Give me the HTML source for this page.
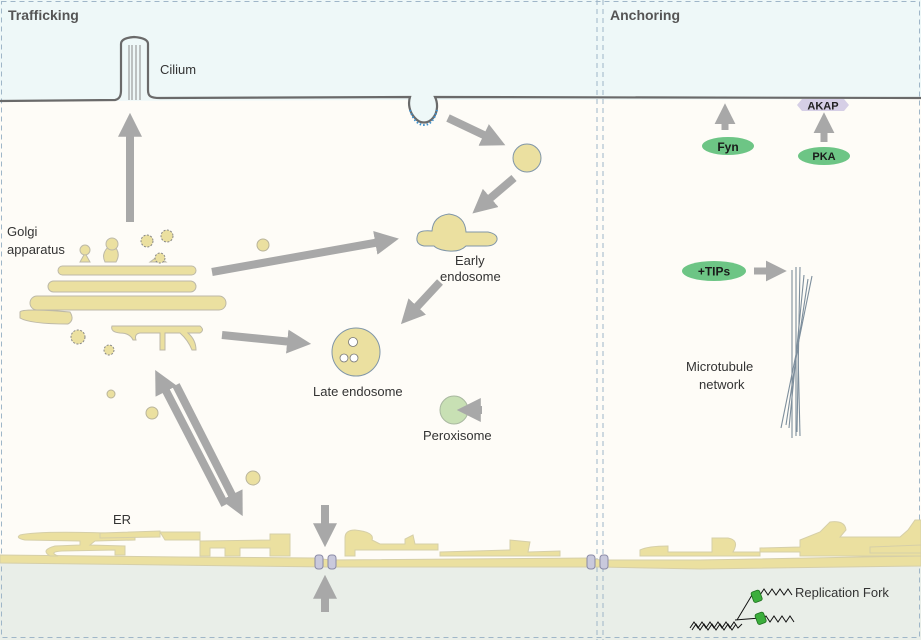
<!DOCTYPE html>
<html><head><meta charset="utf-8"><style>
body{margin:0;background:#fff}
svg{display:block;font-family:"Liberation Sans",sans-serif}
</style></head><body>
<svg width="921" height="640" viewBox="0 0 921 640">
<defs>
<marker id="ah" viewBox="0 0 10 10" refX="2" refY="5" markerWidth="3" markerHeight="3" orient="auto"><path d="M0,0L10,5L0,10z" fill="#a8a8a8"/></marker>
</defs>
<rect width="921" height="640" fill="#fefcf7"/>
<path d="M0,0H921V99L0,101z" fill="#eef8f8"/>
<path d="M0,563 C200,561 400,566 600,563 S800,568 921,566 V640H0z" fill="#e9eee8"/>
<g fill="none" stroke="#9fb6c8" stroke-dasharray="5,4" stroke-width="1">
<rect x="1.5" y="1.5" width="918" height="636"/>
<line x1="597" y1="0" x2="597" y2="640"/><line x1="603" y1="0" x2="603" y2="640"/>
</g>
<text x="8" y="20" font-size="14" font-weight="bold" fill="#555">Trafficking</text>
<text x="610" y="20" font-size="14" font-weight="bold" fill="#555">Anchoring</text>
<path d="M0,101 L115,100 C120,99 121,95 121,90 L121,44 Q121,38 134,37 Q148,38 148,44 L148,90 C148,96 150,98 160,98 L410,97 C408,103 409,112 415,118 C420,124 428,124 433,118 C438,112 438,103 435,97 L921,98" fill="#eef8f8" stroke="#6a6a6a" stroke-width="2.2"/>
<g stroke="#8a8a8a" stroke-width="1"><line x1="129" y1="45" x2="129" y2="100"/><line x1="132" y1="45" x2="132" y2="100"/><line x1="136" y1="45" x2="136" y2="100"/><line x1="140" y1="45" x2="140" y2="100"/></g>
<path d="M410,110 Q415,125 424,125 Q433,125 437,110" fill="none" stroke="#3a8fcc" stroke-width="2" stroke-dasharray="1.5,2"/>
<text x="160" y="74" font-size="13" fill="#333">Cilium</text>
<g fill="#ebe0a0" stroke="#b9b49a" stroke-width="1">
<circle cx="527" cy="158" r="14" stroke="#8096a8"/>
<path d="M418,234 Q420,230 432,231 Q433,216 449,214 Q465,216 466,232 L488,232 Q498,234 497,240 Q495,246 486,246 L466,246 Q460,252 449,251 Q438,250 434,246 L424,246 Q414,244 418,234z" stroke="#8096a8"/>
<circle cx="356" cy="352" r="24" stroke="#8096a8"/>
<circle cx="263" cy="245" r="6"/>
<circle cx="152" cy="413" r="6"/>
<circle cx="111" cy="394" r="4"/>
<circle cx="253" cy="478" r="7"/>
</g>
<g fill="#fff" stroke="#777" stroke-width="0.8"><circle cx="353" cy="342" r="4.5"/><circle cx="344" cy="358" r="4"/><circle cx="354" cy="358" r="4"/></g>
<circle cx="454" cy="410" r="14" fill="#c8e0b4" stroke="#a9b8a0"/>
<text x="313" y="396" font-size="13" fill="#333">Late endosome</text>
<text x="423" y="440" font-size="13" fill="#333">Peroxisome</text>
<text x="455" y="265" font-size="13" fill="#333">Early</text>
<text x="440" y="281" font-size="13" fill="#333">endosome</text>
<g fill="#ebe0a0" stroke="#bdb9a8" stroke-width="1">
<rect x="58" y="266" width="138" height="9" rx="4.5"/>
<rect x="48" y="281" width="148" height="11" rx="5.5"/>
<rect x="30" y="296" width="196" height="14" rx="7"/>
<path d="M20,312 Q22,308 70,312 Q75,320 68,324 Q30,324 20,318z"/>
<path d="M112,326 L200,326 Q205,330 200,333 L188,333 Q196,340 196,350 L192,350 Q188,340 180,333 L165,333 L165,350 L160,350 L160,333 L140,333 Q134,334 136,340 L133,340 Q130,333 120,333 Q110,332 112,326z"/>
<path d="M80,262 L85,253 L90,262z M105,262 Q100,252 112,244 Q122,252 116,262z M150,262 L158,256 L166,262z"/>
<circle cx="85" cy="250" r="5"/><circle cx="112" cy="244" r="6"/>
<circle cx="147" cy="241" r="6" stroke="#888" stroke-dasharray="2,1.5"/><circle cx="167" cy="236" r="6" stroke="#888" stroke-dasharray="2,1.5"/>
<circle cx="160" cy="258" r="5" stroke="#888" stroke-dasharray="2,1.5"/>
<circle cx="78" cy="337" r="7" stroke="#888" stroke-dasharray="2,1.5"/><circle cx="109" cy="350" r="5" stroke="#888" stroke-dasharray="2,1.5"/>
</g>
<text x="7" y="236" font-size="13" fill="#333">Golgi</text>
<text x="7" y="254" font-size="13" fill="#333">apparatus</text>
<g fill="#ebe0a0" stroke="#d6cfa8" stroke-width="1">
<path d="M0,555 L180,557 L315,558 L330,560 L590,558 L600,560 L700,560 L921,556 L921,566 L700,569 L600,567 L330,567 L0,563z"/>
<path d="M20,535 Q40,530 135,534 L135,540 L95,541 L90,545 L125,546 L125,555 L115,555 L115,550 L62,551 Q48,552 58,556 L50,556 Q40,550 55,546 L80,545 L80,541 L25,540 Q15,538 20,535z"/>
<path d="M100,533 L160,531 L160,537 L100,538z M165,540 L160,532 L200,532 L200,540z"/>
<path d="M200,541 L270,540 L270,534 L290,534 L290,556 L270,556 L270,548 L240,548 L240,556 L225,556 L225,548 L210,548 L210,556 L200,556z"/>
<path d="M345,556 L345,538 Q345,530 355,530 Q375,532 372,540 L380,544 L405,544 L405,539 L413,535 L415,544 L438,544 L438,550 L355,550 L355,556z"/>
<path d="M440,552 L510,550 L510,540 L530,542 L528,552 L560,551 L560,556 L440,556z"/>
<path d="M640,556 L640,550 Q648,546 668,546 L668,552 L712,552 L712,538 L728,538 Q740,540 733,552 L760,552 L760,556z"/>
<path d="M760,548 L800,547 L800,540 L820,532 L830,522 Q845,520 846,530 L840,537 L900,537 L908,530 L915,520 L921,520 L921,556 L800,556 L800,552 L760,552z"/>
<path d="M870,547 L921,545 L921,553 L870,553z"/>
</g>
<text x="113" y="524" font-size="13" fill="#333">ER</text>
<g fill="#c9c9dc" stroke="#8a8aa6" stroke-width="1">
<rect x="315" y="555" width="8" height="14" rx="3"/><rect x="328" y="555" width="8" height="14" rx="3"/>
<rect x="587" y="555" width="8" height="14" rx="3"/><rect x="600" y="555" width="8" height="14" rx="3"/>
</g>
<g stroke="#a8a8a8" stroke-width="8" marker-end="url(#ah)" fill="none">
<line x1="130" y1="222" x2="130" y2="132"/>
<line x1="448" y1="118" x2="488" y2="137"/>
<line x1="514" y1="178" x2="487" y2="201"/>
<line x1="212" y1="272" x2="380" y2="242"/>
<line x1="222" y1="335" x2="292" y2="342"/>
<line x1="440" y1="282" x2="414" y2="310"/>
<line x1="482" y1="410" x2="476" y2="410"/>
<line x1="176" y1="385" x2="234" y2="499"/>
<line x1="225" y1="505" x2="164" y2="387"/>
<line x1="325" y1="505" x2="325" y2="528"/>
<line x1="325" y1="612" x2="325" y2="594"/>
<line x1="725" y1="130" x2="725" y2="120" stroke-width="7"/>
<line x1="824" y1="142" x2="824" y2="129" stroke-width="7"/>
<line x1="754" y1="271" x2="770" y2="271" stroke-width="7"/>
</g>
<path d="M797,105 L802,99 L844,99 L849,105 L844,111 L802,111z" fill="#d6cfe6"/>
<text x="823" y="109.5" font-size="11" font-weight="bold" text-anchor="middle" fill="#222">AKAP</text>
<ellipse cx="728" cy="146" rx="26" ry="9" fill="#6dc585"/>
<text x="728" y="151" font-size="12" font-weight="bold" text-anchor="middle" fill="#1a1a1a">Fyn</text>
<ellipse cx="824" cy="156" rx="26" ry="9" fill="#6dc585"/>
<text x="824" y="160" font-size="11" font-weight="bold" text-anchor="middle" fill="#1a1a1a">PKA</text>
<ellipse cx="714" cy="271" rx="32" ry="10" fill="#6dc585"/>
<text x="714" y="275.5" font-size="12" font-weight="bold" text-anchor="middle" fill="#1a1a1a">+TIPs</text>
<g stroke="#7d8e9c" stroke-width="1.1">
<line x1="792" y1="270" x2="792" y2="438"/><line x1="796" y1="267" x2="796" y2="436"/><line x1="800" y1="267" x2="797" y2="432"/>
<line x1="804" y1="275" x2="789" y2="428"/><line x1="808" y1="279" x2="786" y2="425"/><line x1="812" y1="276" x2="781" y2="428"/>
<line x1="798" y1="350" x2="800" y2="436"/>
</g>
<text x="686" y="371" font-size="13" fill="#333">Microtubule</text>
<text x="699" y="389" font-size="13" fill="#333">network</text>
<g fill="none" stroke="#111" stroke-width="1">
<path d="M690,628 l4,-6 l4,6 l4,-6 l4,6 l4,-6 l4,6 l4,-6 l4,6 l4,-6 l4,6 l4,-6 l4,6 l4,-4"/>
<path d="M692,630 l4,-6 l4,6 l4,-6 l4,6 l4,-6 l4,6 l4,-6 l4,6 l4,-6 l4,6 l4,-6"/>
<path d="M737,620 L752,595 L760,593"/><path d="M735,620 L760,618"/>
<path d="M760,595 l4,-6 l4,6 l4,-6 l4,6 l4,-6 l4,6 l4,-6 l4,6"/>
<path d="M762,622 l4,-6 l4,6 l4,-6 l4,6 l4,-6 l4,6 l4,-6 l4,6"/>
</g>
<g fill="#3cae3c" stroke="#1d6e1d" stroke-width="0.8">
<rect x="752" y="591" width="9" height="11" rx="2" transform="rotate(-20 756 596)"/>
<rect x="756" y="613" width="9" height="11" rx="2" transform="rotate(-20 760 618)"/>
</g>
<text x="795" y="597" font-size="13" fill="#333">Replication Fork</text>
</svg>
</body></html>
